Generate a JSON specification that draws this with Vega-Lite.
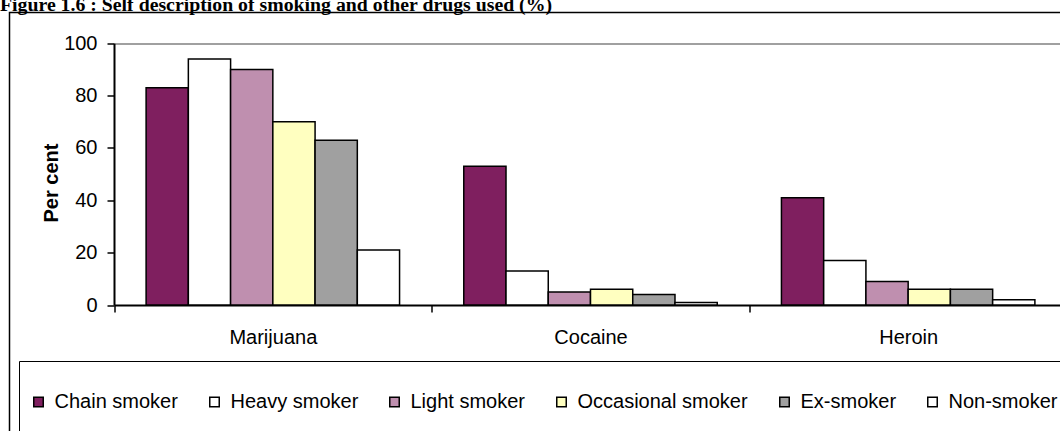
{
  "$schema": "https://vega.github.io/schema/vega-lite/v6.json",
  "width": 1050.5,
  "height": 418.5,
  "autosize": "none",
  "padding": {"left": 9.5, "top": 12.5, "right": 0, "bottom": 0},
  "background": "white",
  "title": {
    "text": "Figure 1.6 : Self description of smoking and other drugs used (%)",
    "anchor": "start",
    "font": "Liberation Serif",
    "fontSize": 19.8,
    "fontWeight": "bold",
    "color": "black",
    "baseline": "alphabetic",
    "offset": 0,
    "dx": -9.5,
    "dy": 18
  },
  "config": {
    "view": {"stroke": "black", "strokeWidth": 1.5, "strokeDash": [1050.5, 1469, 418.5]},
    "font": "Liberation Sans",
    "axis": {
      "labelColor": "black",
      "titleColor": "black",
      "domainColor": "black",
      "tickColor": "black",
      "labelFont": "Liberation Sans",
      "titleFont": "Liberation Sans",
      "labelFontSize": 20,
      "titleFontSize": 20
    }
  },
  "data": {
    "values": [
      {"drug": "Marijuana", "status": "Chain smoker", "pct": 83},
      {"drug": "Marijuana", "status": "Heavy smoker", "pct": 94},
      {"drug": "Marijuana", "status": "Light smoker", "pct": 90},
      {"drug": "Marijuana", "status": "Occasional smoker", "pct": 70},
      {"drug": "Marijuana", "status": "Ex-smoker", "pct": 63},
      {"drug": "Marijuana", "status": "Non-smoker", "pct": 21},
      {"drug": "Cocaine", "status": "Chain smoker", "pct": 53},
      {"drug": "Cocaine", "status": "Heavy smoker", "pct": 13},
      {"drug": "Cocaine", "status": "Light smoker", "pct": 5},
      {"drug": "Cocaine", "status": "Occasional smoker", "pct": 6},
      {"drug": "Cocaine", "status": "Ex-smoker", "pct": 4},
      {"drug": "Cocaine", "status": "Non-smoker", "pct": 1},
      {"drug": "Heroin", "status": "Chain smoker", "pct": 41},
      {"drug": "Heroin", "status": "Heavy smoker", "pct": 17},
      {"drug": "Heroin", "status": "Light smoker", "pct": 9},
      {"drug": "Heroin", "status": "Occasional smoker", "pct": 6},
      {"drug": "Heroin", "status": "Ex-smoker", "pct": 6},
      {"drug": "Heroin", "status": "Non-smoker", "pct": 2}
    ]
  },
  "mark": {"type": "bar", "stroke": "black", "strokeWidth": 1.5},
  "encoding": {
    "x": {
      "field": "drug",
      "type": "nominal",
      "sort": ["Marijuana", "Cocaine", "Heroin"],
      "scale": {"range": [104.5, 1057.5], "paddingInner": 0, "paddingOuter": 0},
      "axis": {
        "title": null,
        "orient": "bottom",
        "offset": -126,
        "labelAngle": 0,
        "domainWidth": 2,
        "tickBand": "extent",
        "tickSize": 7,
        "tickWidth": 1.5,
        "labelPadding": 15,
        "grid": false
      }
    },
    "xOffset": {
      "field": "status",
      "type": "nominal",
      "sort": ["Chain smoker", "Heavy smoker", "Light smoker", "Occasional smoker", "Ex-smoker", "Non-smoker"],
      "scale": {"paddingInner": 0, "paddingOuter": 0.76}
    },
    "y": {
      "field": "pct",
      "type": "quantitative",
      "scale": {"domain": [0, 100], "range": [292.5, 30.8], "nice": false},
      "axis": {
        "title": "Per cent",
        "titleFontWeight": "bold",
        "titleY": 170,
        "titlePadding": 2,
        "values": [0, 20, 40, 60, 80, 100],
        "offset": -104.5,
        "domainWidth": 2,
        "tickSize": 7,
        "tickWidth": 1.5,
        "labelPadding": 10,
        "grid": true,
        "gridColor": "#808080",
        "gridWidth": 1.5,
        "gridOpacity": {"condition": {"test": "datum.value === 100", "value": 1}, "value": 0}
      }
    },
    "color": {
      "field": "status",
      "type": "nominal",
      "sort": ["Chain smoker", "Heavy smoker", "Light smoker", "Occasional smoker", "Ex-smoker", "Non-smoker"],
      "scale": {
        "domain": ["Chain smoker", "Heavy smoker", "Light smoker", "Occasional smoker", "Ex-smoker", "Non-smoker"],
        "range": ["#7F1F5F", "#FFFFFF", "#BF8FAF", "#FFFFC0", "#A0A0A0", "#FFFFFF"]
      },
      "legend": {
        "title": " ",
        "titleFontSize": 10,
        "titlePadding": 11.5,
        "orient": "none",
        "legendX": 9.5,
        "legendY": 348.5,
        "direction": "horizontal",
        "strokeColor": "black",
        "padding": 9.5,
        "symbolType": "square",
        "symbolSize": 90,
        "symbolStrokeColor": "black",
        "symbolStrokeWidth": 1.5,
        "symbolOpacity": 1,
        "labelFont": "Liberation Sans",
        "labelFontSize": 20,
        "labelColor": "black",
        "labelExpr": "[datum.label, '', '']",
        "labelOffset": 6,
        "columnPadding": 26,
        "labelLimit": 400
      }
    }
  }
}
